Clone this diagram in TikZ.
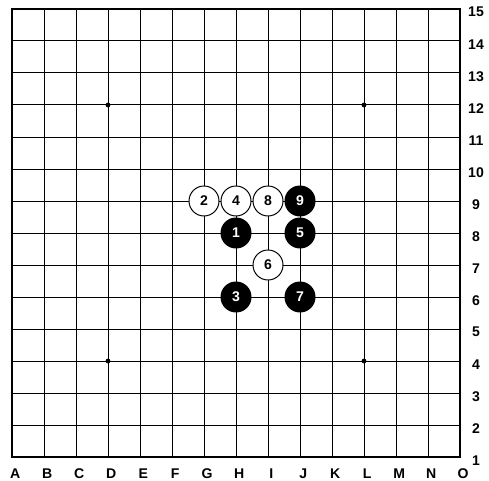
\documentclass[tikz,border=0pt]{standalone}
\usepackage{fontspec}
\setmainfont{Liberation Sans}
\usetikzlibrary{positioning}
\tikzset{
  stoneB/.style={ draw, circle, fill=black, text=white, line width=0.7pt, minimum size=0.75cm, inner sep=0pt, font=\fontsize{10}{12}\selectfont\bfseries }
}
\tikzset{
  stoneW/.style={ draw, circle, fill=white, text=black, line width=0.7pt, minimum size=0.75cm, inner sep=0pt, font=\fontsize{10}{12}\selectfont\bfseries }
}
\tikzset{
  coordlbl/.style={ inner sep=0pt, font=\fontsize{10}{12}\selectfont\bfseries }
}
\tikzset{
  starpt/.style={ circle, fill=black, minimum size=0.12cm, inner sep=0pt }
}

\begin{document}
\begin{tikzpicture}[y=0.8cm, x=0.8cm]
      \useasboundingbox (-0.375, -0.719) rectangle (14.906, 14.281);
      % board lines
      \foreach \i in {1,...,13} {
        \draw[line width=0.7pt] (\i, 0) -- (\i, 14);
        \draw[line width=0.7pt] (0, \i) -- (14, \i);
      }
      \draw[line width=2.1pt] (0, 0) rectangle (14, 14);

      % star points
      \node[starpt] (s1) at (3, 11) {};
      \node[starpt] (s2) at (11, 11) {};
      \node[starpt] (s3) at (3, 3) {};
      \node[starpt] (s4) at (11, 3) {};

      % coordinates
      \foreach \c [count=\i from 0] in {A,B,C,D,E,F,G,H,I,J,K,L,M,N,O}
        \node[coordlbl] (col-\c) at (\i+0.1, -0.53) {\c};
      \foreach \r in {1,...,15}
        \node[coordlbl] (row-\r) at (14.5, \r-1.1) {\r};

      % moves
      \node[stoneB] (m1) at (7, 7) {1};
      \node[stoneW] (m2) at (6, 8) {2};
      \node[stoneB] (m3) at (7, 5) {3};
      \node[stoneW] (m4) at (7, 8) {4};
      \node[stoneB] (m5) at (9, 7) {5};
      \node[stoneW] (m6) at (8, 6) {6};
      \node[stoneB] (m7) at (9, 5) {7};
      \node[stoneW] (m8) at (8, 8) {8};
      \node[stoneB] (m9) at (9, 8) {9};
    \end{tikzpicture}
\end{document}
